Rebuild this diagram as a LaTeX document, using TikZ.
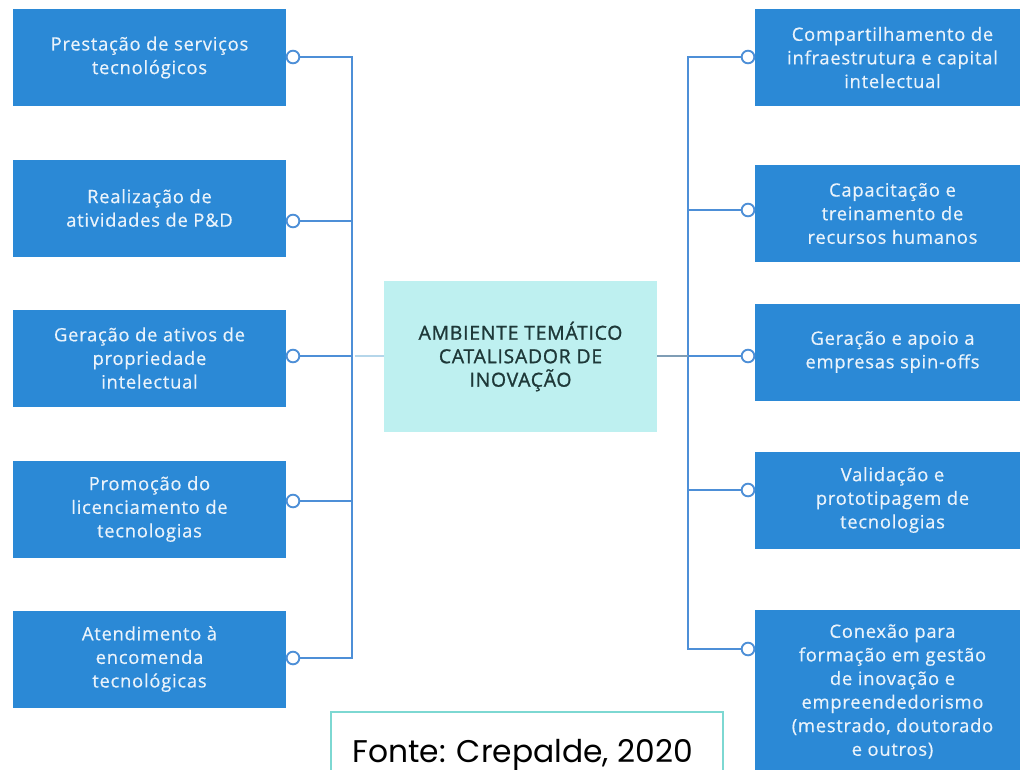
\documentclass[tikz,border=0pt]{standalone}
\usepackage{fontspec}
\setmainfont{Open Sans}
\newfontfamily\boxfont[LetterSpace=4,FakeBold=0.4]{Open Sans}
\newfontfamily\hubfont[LetterSpace=4,FakeBold=1.2]{Open Sans}
\newfontfamily\fontefont{Poppins}
\definecolor{boxblue}{HTML}{2B89D6}
\definecolor{lineblue}{HTML}{4D8FD7}
\definecolor{fadeblue}{HTML}{B5D6EA}
\definecolor{grayblue}{HTML}{7F9DB5}
\definecolor{centerfill}{HTML}{BEF0F0}
\definecolor{centertext}{HTML}{1E3838}
\definecolor{boxtext}{HTML}{EAF3FB}
\definecolor{tealframe}{HTML}{7DD8D2}
\begin{document}
\begin{tikzpicture}[x=0.75pt,y=-0.75pt,
  bluebox/.style={fill=boxblue, text=boxtext, align=center, inner sep=0pt,
    font=\boxfont\fontsize{13.8}{17.7}\selectfont},
  lbox/.style={bluebox, minimum width=204.75pt, minimum height=72.75pt},
  rbox/.style={bluebox, minimum width=206.25pt, minimum height=72.75pt},
  hub/.style={fill=centerfill, text=centertext, align=center, inner sep=0pt,
    minimum width=204.75pt, minimum height=113.25pt,
    font=\hubfont\fontsize{14.5}{17.6}\selectfont},
  dot/.style={circle, draw=lineblue, fill=white, line width=1.4pt, minimum size=9.5pt, inner sep=0pt},
  conn/.style={draw=lineblue, line width=1.5pt},
  fonteframe/.style={draw=tealframe, line width=2.2pt},
  fontetext/.style={text=black, inner sep=0pt, font=\fontefont\fontsize{23.5}{28}\selectfont}
]
\useasboundingbox (0,0) rectangle (1020,769);
\clip (0,0) rectangle (1020,769);

% left boxes
\node[lbox] (l1) at (149.5,57.5) {Prestação de serviços\\tecnológicos};
\node[lbox] (l2) at (149.5,208) {Realização de\\atividades de P\&D};
\node[lbox] (l3) at (149.5,358) {Geração de ativos de\\propriedade\\intelectual};
\node[lbox] (l4) at (149.5,509) {Promoção do\\licenciamento de\\tecnologias};
\node[lbox] (l5) at (149.5,659) {Atendimento à\\encomenda\\tecnológicas};

% right boxes
\node[rbox] (r1) at (892.5,57.5) {Compartilhamento de\\infraestrutura e capital\\intelectual};
\node[rbox] (r2) at (892.5,213.5) {Capacitação e\\treinamento de\\recursos humanos};
\node[rbox] (r3) at (892.5,352) {Geração e apoio a\\empresas spin-offs};
\node[rbox] (r4) at (892.5,500) {Validação e\\prototipagem de\\tecnologias};
\node[rbox, minimum height=122.25pt] (r5) at (892.5,691.5) {Conexão para\\formação em gestão\\de inovação e\\empreendedorismo\\(mestrado, doutorado\\e outros)};

% center
\node[hub] (hub) at (520.5,356.5) {AMBIENTE TEMÁTICO\\CATALISADOR DE\\INOVAÇÃO};

% connector circles
\node[dot] (lc1) at (293,57) {};
\node[dot] (lc2) at (293,221) {};
\node[dot] (lc3) at (293,356) {};
\node[dot] (lc4) at (293,501) {};
\node[dot] (lc5) at (293,658) {};
\node[dot] (rc1) at (748,57) {};
\node[dot] (rc2) at (748,210) {};
\node[dot] (rc3) at (748,356) {};
\node[dot] (rc4) at (748,490) {};
\node[dot] (rc5) at (748,649) {};

% trunk coordinates
\coordinate (lt) at (352,57);
\coordinate (rt) at (688,57);

% left tree
\draw[conn] (lc1.east) -| (lc5.east -| lt) -- (lc5.east);
\draw[conn] (lc2.east) -- (lc2.east -| lt);
\draw[conn] (lc3.east) -- (lc3.east -| lt);
\draw[conn] (lc4.east) -- (lc4.east -| lt);
\draw[draw=fadeblue, line width=1.5pt] ([xshift=2pt]lc3.east -| lt) -- (lc3.east -| hub.west);

% right tree
\draw[conn] (rc1.west) -| (rc5.west -| rt) -- (rc5.west);
\draw[conn] (rc2.west) -- (rc2.west -| rt);
\draw[conn] (rc3.west) -- (rc3.west -| rt);
\draw[conn] (rc4.west) -- (rc4.west -| rt);
\draw[draw=grayblue, line width=1.5pt] (rc3.west -| hub.east) -- (rc3.west -| rt);

% source note
\node[fontetext, anchor=base west] (fonte) at (352,762) {Fonte: Crepalde, 2020};
\draw[fonteframe] (331,800) |- (723,712) -- (723,800);
\end{tikzpicture}
\end{document}
